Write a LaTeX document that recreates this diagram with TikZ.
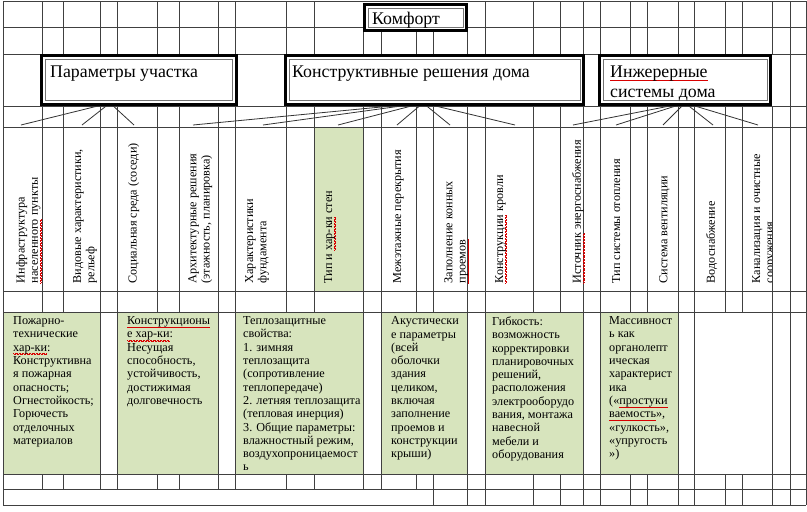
\documentclass[tikz,border=0pt]{standalone}
\usepackage{fontspec}
\setmainfont{Liberation Serif}
\newcommand\spl[1]{\setbox0\hbox{#1}\rlap{\color{red!85!black}\hbox to\wd0{\xleaders\hbox{\vrule width .7pt height -2.1pt depth 2.6pt\vrule width .7pt height -2.6pt depth 3.1pt}\hfill}}\box0\relax}
\definecolor{cellgreen}{HTML}{D7E4BD}
\tikzset{
 grid/.style={draw=black!75, line width=0.9pt},
 vt/.style={rotate=90, anchor=north west, align=left, inner sep=0pt, font=\fontsize{12.2}{13.3}\selectfont},
 gt/.style={anchor=north west, align=left, inner sep=0pt, font=\fontsize{12.2}{13.3}\selectfont},
 hd/.style={anchor=base west, inner sep=0pt, font=\fontsize{17.8}{20}\selectfont},
 hbox/.style={draw=black, line width=3.3pt, fill=white, inner sep=0pt},
 hin/.style={draw=black!55, line width=0.8pt},
 conn/.style={draw=black!80, line width=0.8pt},
}
\def\C{3,42,63,100,117,157,179,218,235,286,314,363,381,416,433,467,485,533,560,583,600,630,647,678,694,725,742,772,790,806}
\begin{document}
\begin{tikzpicture}[x=1pt,y=-1pt]
\useasboundingbox (0,0) rectangle (807,512);
\fill[white] (0,0) rectangle (807,512);
% green cells
\fill[cellgreen] (314,127) rectangle (363,291);
\fill[cellgreen] (4,312) rectangle (100,474);
\fill[cellgreen] (117,312) rectangle (218,474);
\fill[cellgreen] (235,312) rectangle (363,474);
\fill[cellgreen] (381,312) rectangle (467,474);
\fill[cellgreen] (485,312) rectangle (583,474);
\fill[cellgreen] (600,312) rectangle (678,474);
% horizontal grid lines
\foreach \y in {1,27,54,106,127,291,312,474,489,505} \draw[grid] (3,\y) -- (806,\y);
% vertical grid lines
\foreach \x in {3,42,63,100,117,157,179,218,235,286,314,485,533,560,583,600,630,647,678,694,725,742,772,790,806}
  \draw[grid] (\x,1) -- (\x,27);
\foreach \x in \C {\draw[grid] (\x,27) -- (\x,54); \draw[grid] (\x,106) -- (\x,312); \draw[grid] (\x,474) -- (\x,489);}
\foreach \x in {3,790,806} \draw[grid] (\x,54) -- (\x,106);
\foreach \x in {3,100,117,218,235,363,381,467,485,583,600,678,694,772,790,806}
  \draw[grid] (\x,312) -- (\x,474);
\foreach \x in {3,433,467,485,533,560,583,600,630,647,678,694,725,742,772,790,806}
  \draw[grid] (\x,489) -- (\x,505);
% connector end points
\coordinate (s1) at (110,103);
\coordinate (s2) at (423,103);
\coordinate (s3) at (685,103);
\coordinate (a1) at (21,125);
\coordinate (a2) at (82,125);
\coordinate (a3) at (134,125);
\coordinate (b1) at (193,125);
\coordinate (b2) at (263,125);
\coordinate (b3) at (338,125);
\coordinate (b4) at (397,125);
\coordinate (b5) at (450,125);
\coordinate (b6) at (515,125);
\coordinate (c1) at (573,125);
\coordinate (c2) at (616,125);
\coordinate (c3) at (663,125);
\coordinate (c4) at (713,125);
\coordinate (c5) at (758,125);
\foreach \t in {a1,a2,a3} \draw[conn] (s1) -- (\t);
\foreach \t in {b1,b2,b3,b4,b5,b6} \draw[conn] (s2) -- (\t);
\foreach \t in {c1,c2,c3,c4,c5} \draw[conn] (s3) -- (\t);
% header boxes
\node[hbox, minimum width=101.7pt, minimum height=25.7pt] (kom) at (415.5,17.5) {};
\draw[hin] (368,8) rectangle (463,27);
\node[hbox, minimum width=194.7pt, minimum height=48.7pt] (p1) at (139,80) {};
\draw[hin] (45,59) rectangle (232,100);
\node[hbox, minimum width=297.7pt, minimum height=48.7pt] (p2) at (434.5,80) {};
\draw[hin] (289,59) rectangle (580,100);
\node[hbox, minimum width=170.7pt, minimum height=48.7pt] (p3) at (685,80) {};
\draw[hin] (603,59) rectangle (767,100);
\node[hd] (tkom) at (372,24) {Комфорт};
\node[hd] (t1) at (50,77.5) {Параметры участка};
\node[hd] (t2) at (292,77.5) {Конструктивные решения дома};
\node[hd] (t3) at (610,77.5) {\spl{Инжерерные}};
\node[hd] (t3b) at (610,97.5) {системы дома};
% vertical texts
\node[vt] (v1) at (16,283.5) {Инфраструктура\\\spl{населенного} пункты};
\node[vt] (v2) at (73,283.5) {Видовые характеристики,\\рельеф};
\node[vt] (v3) at (128,283.5) {Социальная среда (соседи)};
\node[vt] (v4) at (188,283.5) {Архитектурные решения\\(этажность, планировка)};
\node[vt] (v5) at (245,283.5) {Характеристики\\фундамента};
\node[vt] (v6) at (324,283.5) {Тип и \spl{хар-ки} стен};
\node[vt] (v7) at (393,283.5) {Межэтажные перекрытия};
\node[vt] (v8) at (444,283.5) {Заполнение конных\\\spl{проемов}};
\node[vt] (v9) at (495,283.5) {\spl{Конструкции} кровли};
\node[vt] (v10) at (572,283.5) {\spl{Источник} энергоснабжения};
\node[vt] (v11) at (612,283.5) {Тип системы отопления};
\node[vt] (v12) at (659,283.5) {Система вентиляции};
\node[vt] (v13) at (706,283.5) {Водоснабжение};
\begin{scope}
\clip (742,127) rectangle (772,291);
\node[vt] (v14) at (752,283.5) {Канализация и очистные\\сооружения};
\end{scope}
\draw[grid] (772,127) -- (772,291);
% green cell texts
\node[gt] (g1) at (13,316.5) {Пожарно-\\технические\\\spl{хар-ки}:\\Конструктивна\\я пожарная\\опасность;\\Огнестойкость;\\Горючесть\\отделочных\\материалов};
\node[gt] (g2) at (127,316.5) {\spl{Конструкционы}\\\spl{е хар-ки}:\\Несущая\\способность,\\устойчивость,\\достижимая\\долговечность};
\node[gt] (g3) at (243,316.5) {Теплозащитные\\свойства:\\1. зимняя\\теплозащита\\(сопротивление\\теплопередаче)\\2. летняя теплозащита\\(тепловая инерция)\\3. Общие параметры:\\влажностный режим,\\воздухопроницаемост\\ь};
\node[gt] (g4) at (391,316.5) {Акустически\\е параметры\\(всей\\оболочки\\здания\\целиком,\\включая\\заполнение\\проемов и\\конструкции\\крыши)};
\node[gt] (g5) at (492,316.5) {Гибкость:\\возможность\\корректировки\\планировочных\\решений,\\расположения\\электрооборудо\\вания, монтажа\\навесной\\мебели и\\оборудования};
\node[gt] (g6) at (609,316.5) {Массивност\\ь как\\органолепт\\ическая\\характерист\\ика\\(«\spl{простуки}\\\spl{ваемость}»,\\«гулкость»,\\«упругость\\»)};
\end{tikzpicture}
\end{document}
